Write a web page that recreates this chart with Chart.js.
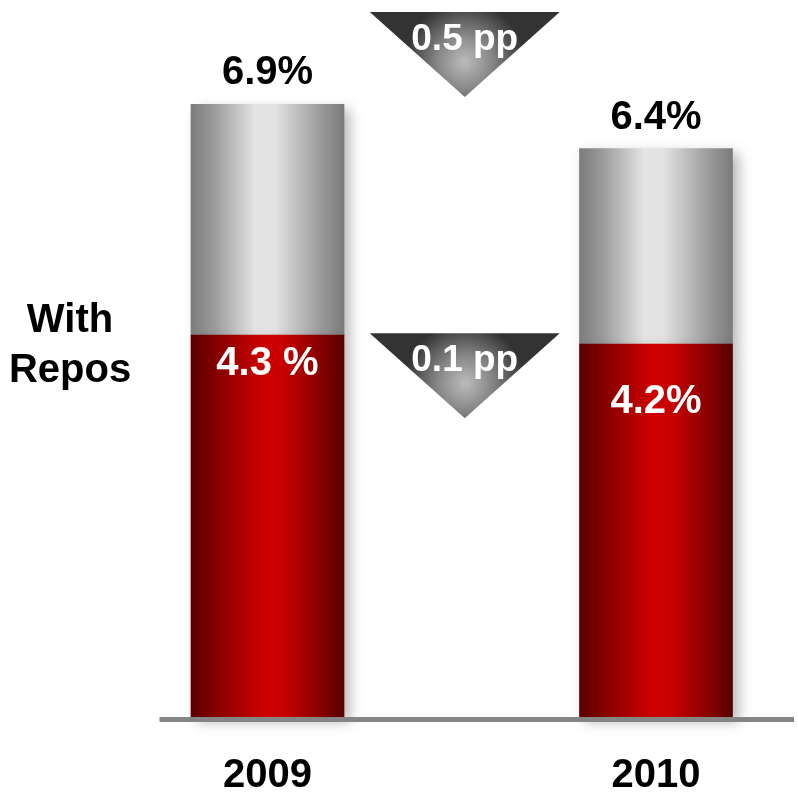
<!DOCTYPE html>
<html>
<head>
<meta charset="utf-8">
<script src="https://cdn.jsdelivr.net/npm/chart.js@4/dist/chart.umd.min.js"></script>
<style>
  html, body { margin: 0; padding: 0; background: #ffffff; }
  #wrap { width: 798px; height: 800px; position: relative; }
</style>
</head>
<body>
<div id="wrap"><canvas id="c"></canvas></div>
<script>
// Years shown on the axis
const years = ['2009', '2010'];
// Lower (red) segment: share without repos, %
const baseShare = [4.3, 4.2];
// Bar total: share with repos, %
const totalShare = [6.9, 6.4];
// Text printed inside the red segment and above each bar
const baseLabels = ['4.3 %', '4.2%'];
const totalLabels = ['6.9%', '6.4%'];
// Side caption
const sideCaption = ['With', 'Repos'];

const FONT = "'Liberation Sans', Arial, Helvetica, sans-serif";
const BAR_W = 153;
// vertical nudges for the inner value labels (baseline below segment top)
const baseLabelDrop = [40, 69];

const GRAY_STOPS = [[0, '#7c7c7c'], [0.15, '#9a9a9a'], [0.42, '#e4e4e4'], [0.55, '#e2e2e2'], [0.85, '#9a9a9a'], [1, '#7a7a7a']];
const RED_STOPS = [[0, '#5a0000'], [0.2, '#8e0000'], [0.48, '#cf0000'], [0.6, '#c80000'], [0.85, '#860000'], [1, '#560000']];

function barGradient(context, stops) {
  const chart = context.chart;
  const xs = chart.scales && chart.scales.x;
  if (!xs || context.dataIndex === undefined) return stops[2][1];
  const cx = xs.getPixelForValue(context.dataIndex);
  if (!isFinite(cx)) return stops[2][1];
  const g = chart.ctx.createLinearGradient(cx - BAR_W / 2, 0, cx + BAR_W / 2, 0);
  stops.forEach(([o, c]) => g.addColorStop(o, c));
  return g;
}

function drawDownTriangle(c, cx, top, halfW, h) {
  const g = c.createRadialGradient(cx, top + 50, 2, cx, top + 50, 60);
  g.addColorStop(0, '#b8b8b8');
  g.addColorStop(0.45, '#858585');
  g.addColorStop(1, '#333333');
  c.beginPath();
  c.moveTo(cx - halfW, top);
  c.lineTo(cx + halfW, top);
  c.lineTo(cx, top + h);
  c.closePath();
  c.fillStyle = g;
  c.fill();
}

const decor = {
  id: 'decor',
  beforeDatasetsDraw(chart) {
    const c = chart.ctx;
    c.save();
    c.shadowColor = 'rgba(0,0,0,0.28)';
    c.shadowBlur = 12;
    c.shadowOffsetX = 6;
    c.shadowOffsetY = 5;
  },
  afterDatasetsDraw(chart) {
    const c = chart.ctx;
    c.restore();
    const xs = chart.scales.x, ys = chart.scales.y;
    const x0 = xs.getPixelForValue(0), x1 = xs.getPixelForValue(1);
    const yBase = ys.getPixelForValue(0);

    // baseline
    c.fillStyle = '#858585';
    c.fillRect(x0 - 108, yBase, (x1 + 138) - (x0 - 108), 5);

    c.save();
    c.textAlign = 'center';
    c.textBaseline = 'alphabetic';
    c.font = 'bold 40px ' + FONT;

    // value above each bar
    c.fillStyle = '#000000';
    totalShare.forEach((v, i) => {
      c.fillText(totalLabels[i], xs.getPixelForValue(i), ys.getPixelForValue(v) - 20);
    });

    // value inside the red segment
    c.fillStyle = '#ffffff';
    baseShare.forEach((v, i) => {
      c.fillText(baseLabels[i], xs.getPixelForValue(i), ys.getPixelForValue(v) + baseLabelDrop[i]);
    });

    // side caption
    c.fillStyle = '#000000';
    c.fillText(sideCaption[0], 70, 332);
    c.fillText(sideCaption[1], 70, 382);

    // change markers between the two years
    const mx = (x0 + x1) / 2 + 3;
    const markers = [
      { top: chart.chartArea.top + 12, text: (totalShare[0] - totalShare[1]).toFixed(1) + ' pp' },
      { top: ys.getPixelForValue(baseShare[0]) - 2, text: (baseShare[0] - baseShare[1]).toFixed(1) + ' pp' }
    ];
    markers.forEach(m => {
      drawDownTriangle(c, mx, m.top, 95, 85);
      c.fillStyle = '#ffffff';
      c.font = 'bold 37px ' + FONT;
      c.fillText(m.text, mx, m.top + 38);
    });
    c.restore();
  }
};

new Chart(document.getElementById('c'), {
  type: 'bar',
  data: {
    labels: years,
    datasets: [
      {
        label: 'Without repos',
        data: baseShare,
        backgroundColor: ctx => barGradient(ctx, RED_STOPS),
        grouped: false,
        order: 1
      },
      {
        label: 'With repos',
        data: baseShare.map((b, i) => [b, totalShare[i]]),
        backgroundColor: ctx => barGradient(ctx, GRAY_STOPS),
        grouped: false,
        order: 2
      }
    ]
  },
  options: {
    responsive: true,
    maintainAspectRatio: false,
    animation: false,
    devicePixelRatio: 1,
    barThickness: BAR_W,
    clip: false,
    layout: { padding: { left: 267.5, right: 142, top: 0, bottom: 0 } },
    plugins: { legend: { display: false }, tooltip: { enabled: false } },
    scales: {
      x: {
        type: 'category',
        offset: false,
        grid: { display: false, drawTicks: false },
        border: { display: false },
        afterFit(scale) { scale.height = 83; },
        ticks: {
          padding: 35,
          color: '#000000',
          font: { family: FONT, size: 40, weight: 'bold' },
          maxRotation: 0
        }
      },
      y: {
        display: false,
        min: 0,
        max: 8.074
      }
    }
  },
  plugins: [decor]
});
</script>
</body>
</html>
